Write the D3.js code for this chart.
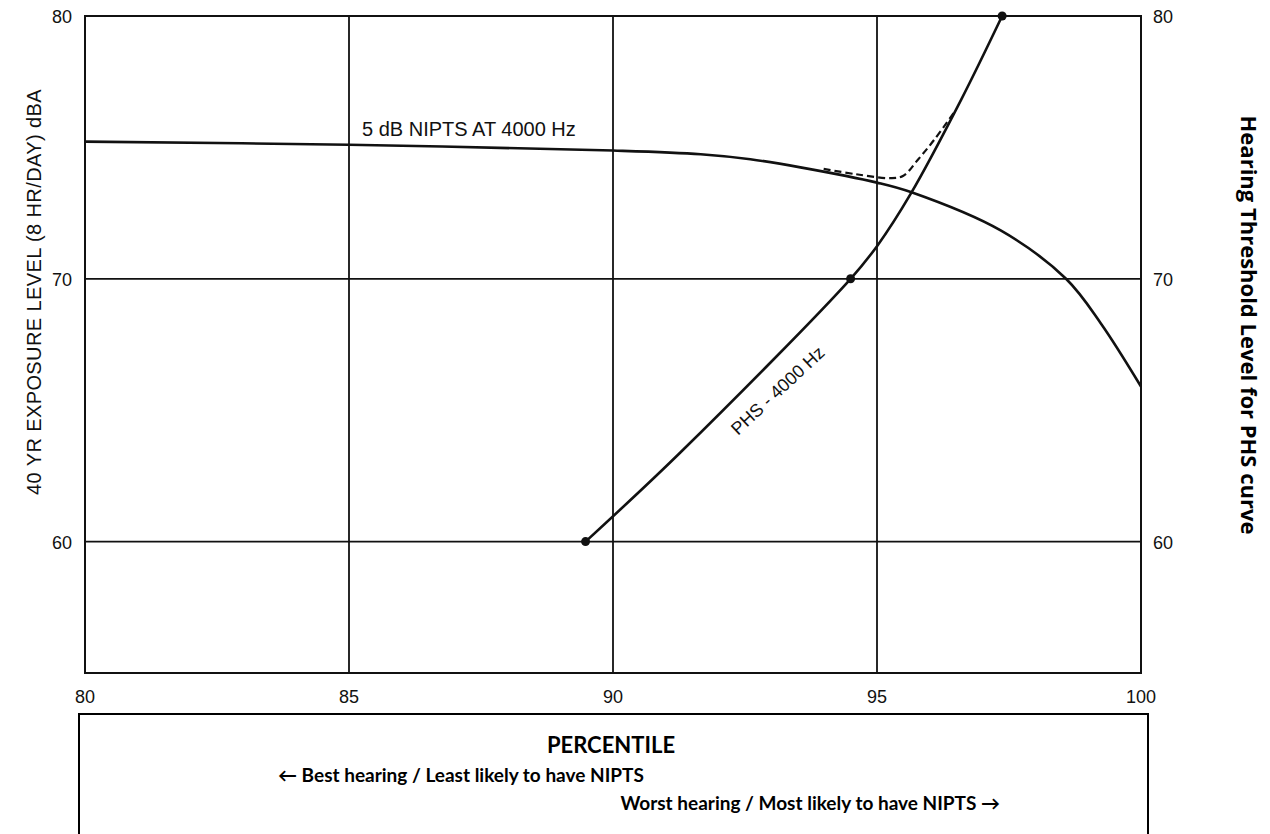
<!DOCTYPE html>
<html>
<head>
<meta charset="utf-8">
<script src="https://cdn.jsdelivr.net/npm/d3@7"></script>
<style>
  body { margin: 0; background: #fff; }
  svg { display: block; }
</style>
</head>
<body>
<div id="chart"></div>
<script>
// percentile / level pairs
var niptsPct   = [80, 85, 90, 91.66, 92.6, 93.55, 95, 95.64, 97.35, 98.58, 99.24, 100];
var niptsLevel = [75.22, 75.1, 74.88, 74.74, 74.55, 74.24, 73.66, 73.3, 71.83, 70.0, 68.3, 65.9];

var phsPct   = [89.48, 91.28, 94.5, 95.01, 95.64, 96.59, 97.37];
var phsLevel = [60, 63.4, 70, 71.27, 73.24, 76.8, 80];
var phsDots  = [0, 2, 6]; // indices with a marker

var dashPct   = [93.99, 94.6, 95.26, 95.5, 95.77, 96.08, 96.45];
var dashLevel = [74.18, 73.98, 73.83, 73.92, 74.52, 75.28, 76.3];

var xTicks = [80, 85, 90, 95, 100];
var yTicks = [60, 70, 80];

var W = 1270, H = 834;
var margin = {left: 85, right: 130, top: 16, bottom: 161};

var svg = d3.select("#chart").append("svg")
    .attr("width", W)
    .attr("height", H);

var x = d3.scaleLinear().domain([80, 100]).range([margin.left, W - margin.right + 1]);
var y = d3.scaleLinear().domain([55, 80]).range([H - margin.bottom, margin.top]);

var ink = "#111";
var font = "'Liberation Sans', Arial, sans-serif";
var boxFont = "Lato, 'Open Sans', sans-serif";

// grid
svg.append("g").selectAll("line")
    .data([85, 90, 95])
    .join("line")
    .attr("x1", d => x(d)).attr("x2", d => x(d))
    .attr("y1", y(80)).attr("y2", y(55))
    .attr("stroke", ink).attr("stroke-width", 1.8);

svg.append("g").selectAll("line")
    .data([60, 70])
    .join("line")
    .attr("x1", x(80)).attr("x2", x(100))
    .attr("y1", d => y(d)).attr("y2", d => y(d))
    .attr("stroke", ink).attr("stroke-width", 1.8);

// frame
svg.append("rect")
    .attr("x", x(80)).attr("y", y(80))
    .attr("width", x(100) - x(80)).attr("height", y(55) - y(80))
    .attr("fill", "none").attr("stroke", ink).attr("stroke-width", 2);

// tick labels
svg.append("g").selectAll("text")
    .data(xTicks)
    .join("text")
    .attr("x", d => x(d)).attr("y", y(55) + 30)
    .attr("text-anchor", "middle")
    .attr("font-family", font).attr("font-size", 18).attr("fill", ink)
    .text(d => d);

svg.append("g").selectAll("text")
    .data(yTicks)
    .join("text")
    .attr("x", x(80) - 13).attr("y", d => y(d) + 7)
    .attr("text-anchor", "end")
    .attr("font-family", font).attr("font-size", 18).attr("fill", ink)
    .text(d => d);

svg.append("g").selectAll("text")
    .data(yTicks)
    .join("text")
    .attr("x", x(100) + 12).attr("y", d => y(d) + 7)
    .attr("text-anchor", "start")
    .attr("font-family", font).attr("font-size", 18).attr("fill", ink)
    .text(d => d);

// curves
var nipts = niptsPct.map((p, i) => [p, niptsLevel[i]]);
var phs = phsPct.map((p, i) => [p, phsLevel[i]]);
var dash = dashPct.map((p, i) => [p, dashLevel[i]]);

var line = d3.line()
    .x(d => x(d[0]))
    .y(d => y(d[1]))
    .curve(d3.curveCatmullRom.alpha(0.5));

svg.append("path")
    .datum(nipts)
    .attr("fill", "none").attr("stroke", ink).attr("stroke-width", 2.6)
    .attr("d", line);

svg.append("path")
    .datum(phs)
    .attr("fill", "none").attr("stroke", ink).attr("stroke-width", 2.6)
    .attr("d", line);

svg.append("path")
    .datum(dash)
    .attr("fill", "none").attr("stroke", ink).attr("stroke-width", 2.2)
    .attr("stroke-dasharray", "7,4")
    .attr("d", line);

svg.append("g").selectAll("circle")
    .data(phsDots.map(i => phs[i]))
    .join("circle")
    .attr("cx", d => x(d[0])).attr("cy", d => y(d[1]))
    .attr("r", 4.5).attr("fill", ink);

// curve labels
svg.append("text")
    .attr("x", 362).attr("y", 136)
    .attr("font-family", font).attr("font-size", 20).attr("fill", ink)
    .text("5 dB NIPTS AT 4000 Hz");

svg.append("text")
    .attr("transform", "translate(738,436) rotate(-43)")
    .attr("font-family", font).attr("font-size", 18).attr("fill", ink)
    .text("PHS - 4000 Hz");

// axis titles
svg.append("text")
    .attr("transform", "translate(41," + 292 + ") rotate(-90)")
    .attr("text-anchor", "middle")
    .attr("font-family", font).attr("font-size", 20).attr("letter-spacing", 0.4)
    .attr("fill", ink)
    .text("40 YR EXPOSURE LEVEL (8 HR/DAY) dBA");

svg.append("text")
    .attr("transform", "translate(1241," + 325 + ") rotate(90)")
    .attr("text-anchor", "middle")
    .attr("font-family", "'Open Sans', Lato, sans-serif").attr("font-weight", "bold")
    .attr("font-size", 22).attr("fill", "#000")
    .text("Hearing Threshold Level for PHS curve");

// percentile box
svg.append("rect")
    .attr("x", 79).attr("y", 714)
    .attr("width", 1148 - 79).attr("height", 140)
    .attr("fill", "none").attr("stroke", "#000").attr("stroke-width", 2);

svg.append("text")
    .attr("x", 611).attr("y", 753)
    .attr("text-anchor", "middle")
    .attr("font-family", boxFont).attr("font-weight", "bold").attr("font-size", 22)
    .text("PERCENTILE");

svg.append("text")
    .attr("x", 278).attr("y", 782)
    .attr("font-family", boxFont).attr("font-weight", "bold").attr("font-size", 19)
    .text("\u2190 Best hearing / Least likely to have NIPTS");

svg.append("text")
    .attr("x", 1000).attr("y", 810)
    .attr("text-anchor", "end")
    .attr("font-family", boxFont).attr("font-weight", "bold").attr("font-size", 19)
    .text("Worst hearing / Most likely to have NIPTS \u2192");
</script>
</body>
</html>
